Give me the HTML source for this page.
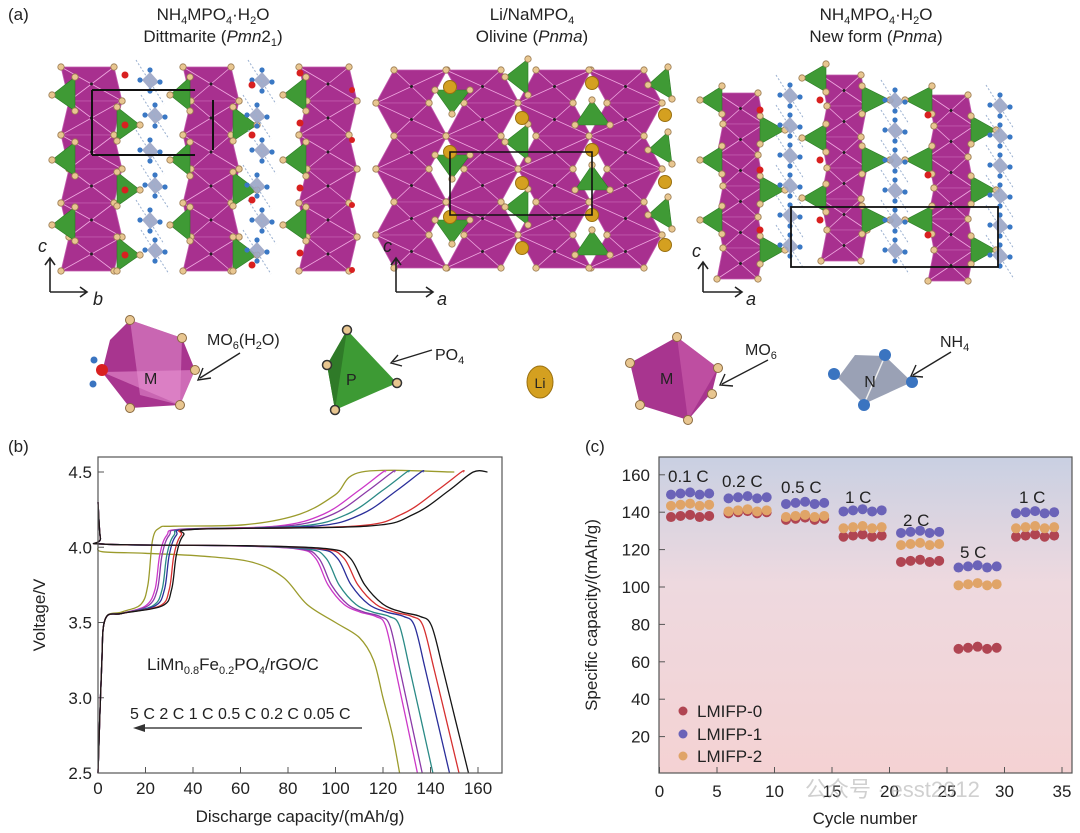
<!DOCTYPE html>
<html><head><meta charset="utf-8">
<style>
html,body{margin:0;padding:0;background:#fff;}
body{width:1080px;height:833px;overflow:hidden;position:relative;font-family:"Liberation Sans","Noto Sans CJK SC",sans-serif;}
svg{position:absolute;left:0;top:0;}
text{font-family:"Liberation Sans","Noto Sans CJK SC",sans-serif;fill:#222;}
</style></head><body>
<svg id="s" width="1080" height="833" viewBox="0 0 1080 833">
<defs>
<linearGradient id="bg" x1="0" y1="0" x2="0" y2="1">
<stop offset="0" stop-color="#c9d0e2"/><stop offset="0.4" stop-color="#eed9df"/><stop offset="1" stop-color="#f4d2d3"/>
</linearGradient>
<marker id="ah" markerWidth="10" markerHeight="8" refX="1" refY="4" orient="auto"><path d="M10,0 L0,4 L10,8 Z" fill="#333"/></marker>
</defs>
<g id="cry"></g>
<!-- panel a titles -->
<text x="8" y="20" font-size="17">(a)</text>
<text x="213" y="20" font-size="17" text-anchor="middle">NH<tspan font-size="11" dy="4">4</tspan><tspan dy="-4">MPO</tspan><tspan font-size="11" dy="4">4</tspan><tspan dy="-4">·H</tspan><tspan font-size="11" dy="4">2</tspan><tspan dy="-4">O</tspan></text>
<text x="213" y="42" font-size="17" text-anchor="middle">Dittmarite (<tspan font-style="italic">Pmn</tspan>2<tspan font-size="11" dy="4">1</tspan><tspan dy="-4">)</tspan></text>
<text x="532" y="20" font-size="17" text-anchor="middle">Li/NaMPO<tspan font-size="11" dy="4">4</tspan></text>
<text x="532" y="42" font-size="17" text-anchor="middle">Olivine (<tspan font-style="italic">Pnma</tspan>)</text>
<text x="876" y="20" font-size="17" text-anchor="middle">NH<tspan font-size="11" dy="4">4</tspan><tspan dy="-4">MPO</tspan><tspan font-size="11" dy="4">4</tspan><tspan dy="-4">·H</tspan><tspan font-size="11" dy="4">2</tspan><tspan dy="-4">O</tspan></text>
<text x="876" y="42" font-size="17" text-anchor="middle">New form (<tspan font-style="italic">Pnma</tspan>)</text>
<!-- axes arrows -->
<g stroke="#222" stroke-width="1.6" fill="none">
<path d="M50,292 V258 M45,265 L50,258 L55,265"/><path d="M50,292 H86 M80,287 L87,292 L80,297"/>
<path d="M396,292 V258 M391,265 L396,258 L401,265"/><path d="M396,292 H432 M426,287 L433,292 L426,297"/>
<path d="M703,292 V262 M698,269 L703,262 L708,269"/><path d="M703,292 H741 M735,287 L742,292 L735,297"/>
</g>
<text x="38" y="252" font-size="18" font-style="italic">c</text><text x="93" y="305" font-size="18" font-style="italic">b</text>
<text x="383" y="252" font-size="18" font-style="italic">c</text><text x="437" y="305" font-size="18" font-style="italic">a</text>
<text x="692" y="257" font-size="18" font-style="italic">c</text><text x="746" y="305" font-size="18" font-style="italic">a</text>
<!-- legend polyhedra -->
<g>
<polygon points="130,320 182,338 195,370 180,405 130,408 102,372 110,340" fill="#a8358f"/>
<polygon points="130,320 182,338 180,405 140,395" fill="#d77cc0" opacity="0.7"/>
<polygon points="102,372 180,405 195,370" fill="#e88fd0" opacity="0.6"/>
<circle cx="130" cy="320" r="4.5" fill="#e8c690" stroke="#8a6a40"/><circle cx="182" cy="338" r="4.5" fill="#e8c690" stroke="#8a6a40"/><circle cx="195" cy="370" r="4.5" fill="#e8c690" stroke="#8a6a40"/><circle cx="180" cy="405" r="4.5" fill="#e8c690" stroke="#8a6a40"/><circle cx="130" cy="408" r="4.5" fill="#e8c690" stroke="#8a6a40"/>
<circle cx="102" cy="370" r="6" fill="#d92020"/><circle cx="94" cy="360" r="3.5" fill="#3a74c0"/><circle cx="93" cy="384" r="3.5" fill="#3a74c0"/>
<text x="144" y="384" font-size="16">M</text>
<text x="207" y="345" font-size="16">MO<tspan font-size="11" dy="4">6</tspan><tspan dy="-4">(H</tspan><tspan font-size="11" dy="4">2</tspan><tspan dy="-4">O)</tspan></text>
<path d="M240,353 L200,378" stroke="#222" stroke-width="1.4"/><path d="M203,368 L198,380 L211,378" stroke="#222" stroke-width="1.4" fill="none"/>
<polygon points="347,330 397,383 335,410 327,365" fill="#3d9a34"/><polygon points="347,330 335,410 327,365" fill="#2f7a28"/>
<circle cx="347" cy="330" r="4.5" fill="#e8c690" stroke="#333" stroke-width="1.5"/><circle cx="327" cy="365" r="4.5" fill="#e8c690" stroke="#333" stroke-width="1.5"/><circle cx="397" cy="383" r="4.5" fill="#e8c690" stroke="#333" stroke-width="1.5"/><circle cx="335" cy="410" r="4.5" fill="#e8c690" stroke="#333" stroke-width="1.5"/>
<text x="346" y="385" font-size="16">P</text>
<text x="435" y="360" font-size="16">PO<tspan font-size="11" dy="4">4</tspan></text>
<path d="M432,350 L393,362" stroke="#222" stroke-width="1.4"/><path d="M398,355 L391,363 L402,366" stroke="#222" stroke-width="1.4" fill="none"/>
<ellipse cx="540" cy="382" rx="13" ry="16" fill="#d4a020" stroke="#9a7010"/>
<text x="540" y="388" font-size="14" text-anchor="middle">Li</text>
<polygon points="677,337 718,368 712,392 688,420 640,405 630,363" fill="#a8358f"/>
<polygon points="677,337 718,368 688,420" fill="#c85aa8" opacity="0.7"/>
<circle cx="677" cy="337" r="4.5" fill="#e8c690" stroke="#8a6a40"/><circle cx="718" cy="368" r="4.5" fill="#e8c690" stroke="#8a6a40"/><circle cx="712" cy="394" r="4.5" fill="#e8c690" stroke="#8a6a40"/><circle cx="688" cy="420" r="4.5" fill="#e8c690" stroke="#8a6a40"/><circle cx="640" cy="405" r="4.5" fill="#e8c690" stroke="#8a6a40"/><circle cx="630" cy="363" r="4.5" fill="#e8c690" stroke="#8a6a40"/>
<text x="660" y="384" font-size="16">M</text>
<text x="745" y="355" font-size="16">MO<tspan font-size="11" dy="4">6</tspan></text>
<path d="M768,360 L722,384" stroke="#222" stroke-width="1.4"/><path d="M725,374 L720,385 L733,386" stroke="#222" stroke-width="1.4" fill="none"/>
<polygon points="885,356 912,382 864,404 838,378 855,355" fill="#8890a8" opacity="0.85"/>
<line x1="885" y1="356" x2="864" y2="404" stroke="#eee" stroke-width="1.5"/>
<circle cx="885" cy="355" r="6" fill="#3a74c0"/><circle cx="912" cy="382" r="6" fill="#3a74c0"/><circle cx="864" cy="405" r="6" fill="#3a74c0"/><circle cx="834" cy="374" r="6" fill="#3a74c0"/>
<text x="870" y="387" font-size="16" text-anchor="middle">N</text>
<text x="940" y="347" font-size="16">NH<tspan font-size="11" dy="4">4</tspan></text>
<path d="M951,352 L913,375" stroke="#222" stroke-width="1.4"/><path d="M916,365 L911,376 L923,377" stroke="#222" stroke-width="1.4" fill="none"/>
</g>

<!-- panel b -->
<text x="8" y="452" font-size="17">(b)</text>
<g id="pb"></g>
<rect x="98" y="457" width="404" height="316" fill="none" stroke="#555" stroke-width="1.2"/>
<text x="147" y="670" font-size="17">LiMn<tspan font-size="11" dy="4">0.8</tspan><tspan dy="-4">Fe</tspan><tspan font-size="11" dy="4">0.2</tspan><tspan dy="-4">PO</tspan><tspan font-size="11" dy="4">4</tspan><tspan dy="-4">/rGO/C</tspan></text>
<text x="130" y="719" font-size="16">5 C 2 C 1 C 0.5 C 0.2 C 0.05 C</text>
<line x1="362" y1="728" x2="143" y2="728" stroke="#444" stroke-width="1.5"/>
<path d="M133,728 L145,724 L145,732 Z" fill="#333"/>
<text x="45" y="615" font-size="17" text-anchor="middle" transform="rotate(-90 45 615)">Voltage/V</text>
<text x="300" y="822" font-size="17" text-anchor="middle">Discharge capacity/(mAh/g)</text>
<!-- panel c -->
<text x="585" y="452" font-size="17">(c)</text>
<rect x="659" y="457" width="413" height="316" fill="url(#bg)" stroke="#555" stroke-width="1.2"/>
<g id="pc"></g>
<g font-size="17">
<text x="668" y="482">0.1 C</text><text x="722" y="487">0.2 C</text><text x="781" y="493">0.5 C</text>
<text x="845" y="503">1 C</text><text x="903" y="526">2 C</text><text x="960" y="558">5 C</text><text x="1019" y="503">1 C</text>
<text x="697" y="717">LMIFP-0</text><text x="697" y="740">LMIFP-1</text><text x="697" y="762">LMIFP-2</text>
</g>
<circle cx="683" cy="711" r="4.5" fill="#b04552"/><circle cx="683" cy="734" r="4.5" fill="#6b63b8"/><circle cx="683" cy="756" r="4.5" fill="#e0a468"/>
<text x="597" y="615" font-size="17" text-anchor="middle" transform="rotate(-90 597 615)">Specific capacity/(mAh/g)</text>
<text x="865" y="824" font-size="17" text-anchor="middle">Cycle number</text>
<text x="805" y="797" font-size="22" fill="#999" style="fill:#aaa" opacity="0.55">公众号 · esst2012</text>
</svg>
<script>
var NS="http://www.w3.org/2000/svg";
function el(p,t,a){var e=document.createElementNS(NS,t);for(var k in a)e.setAttribute(k,a[k]);p.appendChild(e);return e;}
function tx(p,x,y,s,a){var e=el(p,"text",{x:x,y:y,"font-size":17,"text-anchor":a||"end"});e.textContent=s;return e;}
// ---------- panel b ----------
var pb=document.getElementById("pb");
function X(q){return 98+q*(380/160);}function Y(v){return 773-(v-2.5)*150.5;}
// ticks
for(var i=0;i<=8;i++){var x=X(i*20);el(pb,"line",{x1:x,y1:773,x2:x,y2:767,stroke:"#555"});tx(pb,x,794,String(i*20),"middle");}
[2.5,3.0,3.5,4.0,4.5].forEach(function(v){el(pb,"line",{x1:98,y1:Y(v),x2:104,y2:Y(v),stroke:"#555"});tx(pb,92,Y(v)+6,v.toFixed(1));});
function path(pts){var d="";for(var i=0;i<pts.length;i++){var p0=pts[Math.max(i-1,0)],p1=pts[i],p2=pts[Math.min(i+1,pts.length-1)],pm=pts[Math.max(i-2,0)];
 if(i==0){d+="M"+X(p1[0]).toFixed(1)+","+Y(p1[1]).toFixed(1);continue;}
 var a=pts[i-1],b=p1,c=p2,z=pm;
 var c1x=X(a[0])+(X(b[0])-X(z[0]))/6,c1y=Y(a[1])+(Y(b[1])-Y(z[1]))/6,c2x=X(b[0])-(X(c[0])-X(a[0]))/6,c2y=Y(b[1])-(Y(c[1])-Y(a[1]))/6;
 d+="C"+c1x.toFixed(1)+","+c1y.toFixed(1)+" "+c2x.toFixed(1)+","+c2y.toFixed(1)+" "+X(b[0]).toFixed(1)+","+Y(b[1]).toFixed(1);}return d;}
var curves=[
 {c:"#9b9b2c",Q:127,s:22,E:111,olive:1},
 {c:"#cc38c8",Q:134.5,s:26,E:120},
 {c:"#8b3aa8",Q:136.5,s:27,E:124},
 {c:"#2a8a86",Q:141,s:29,E:130},
 {c:"#2a2e9a",Q:148,s:30,E:136},
 {c:"#d63030",Q:152,s:32,E:153},
 {c:"#151515",Q:156,s:33,E:158,end:164}];
curves.forEach(function(k){
 var Q=k.Q,d;
 if(k.olive){d=[[0,4.0],[2,3.97],[20,3.96],[45,3.94],[65,3.9],[78,3.8],[88,3.62],[100,3.5],[110,3.4],[116,3.25],[120,3.0],[124,2.75],[127,2.5]];}
 else d=[[0,4.3],[1,4.06],[3,4.02],[0.4*Q,4.01],[0.62*Q,3.99],[0.68*Q,3.93],[0.72*Q,3.75],[0.77*Q,3.62],[0.82*Q,3.57],[0.87*Q,3.54],[0.9*Q,3.48],[0.93*Q,3.2],[0.965*Q,2.85],[Q,2.5]];
 el(pb,"path",{d:path(d),fill:"none",stroke:k.c,"stroke-width":1.3});
 var s=k.s,E=k.E;
 var c=[[0,2.5],[1.5,3.2],[3,3.52],[10,3.56],[s-6,3.61],[s-2,3.72],[s,3.95],[s+3,4.08],[s+9,4.12],[E-45,4.14],[E-25,4.22],[E-10,4.38],[E,4.5],[k.end||E+1,4.5]];
 if(k.olive)c=[[0,2.5],[1.5,3.2],[3,3.52],[10,3.57],[18,3.62],[21,3.75],[23,4.05],[26,4.13],[32,4.14],[62,4.15],[85,4.22],[100,4.35],[111,4.5],[150,4.5]];
 el(pb,"path",{d:path(c),fill:"none",stroke:k.c,"stroke-width":1.3});
});
// ---------- panel c ----------
var pc=document.getElementById("pc");
function CX(c){return 659.5+c*11.5;}function CY(v){return 774-v*1.87;}
for(var i=0;i<=7;i++){var x=CX(i*5);el(pc,"line",{x1:x,y1:773,x2:x,y2:767,stroke:"#555"});tx(pc,x,797,String(i*5),"middle");}
for(var v=20;v<=160;v+=20){el(pc,"line",{x1:659,y1:CY(v),x2:665,y2:CY(v),stroke:"#555"});tx(pc,650,CY(v)+6,String(v));}
var G=[[150,144,138],[148,141,140],[145,138,136.5],[141,132,127.5],[129.5,123,114],[111,101.5,67.5],[140,132,127.5]];
var cols=["#6b63b8","#e0a468","#b04552"];
G.forEach(function(g,gi){for(var j=0;j<5;j++){var c=1+gi*5+j*0.83;for(var m=2;m>=0;m--){var jit=((j*7+m*3)%3-1)*0.6;el(pc,"circle",{cx:CX(c),cy:CY(g[m]+jit),r:5,fill:cols[m]});}}});
// ---------- crystals ----------
var cr=document.getElementById("cry");
var MG="#a8308f",GR="#3f9a35",OX="#e8c690";
function dot(x,y,col,r){el(cr,"circle",{cx:x,cy:y,r:r||3.2,fill:col||OX,stroke:col?"none":"#9a7a50","stroke-width":0.8});}
function column(x,w,y0,y1,h,sk){var n=Math.round((y1-y0)/h);for(var i=0;i<n;i++){var t=y0+i*h,b=t+h,o=(i%2?sk:-sk);
 var pts=[[x+o,t],[x+w+o,t],[x+w-o,b],[x-o,b]];
 el(cr,"polygon",{points:pts.map(function(p){return p.join(",")}).join(" "),fill:MG,stroke:"#c25cae","stroke-width":0.8});
 el(cr,"line",{x1:pts[0][0],y1:t,x2:pts[2][0],y2:b,stroke:"#f0a8e0","stroke-width":0.8});
 el(cr,"line",{x1:pts[1][0],y1:t,x2:pts[3][0],y2:b,stroke:"#f0a8e0","stroke-width":0.8});
 el(cr,"circle",{cx:x+w/2,cy:(t+b)/2,r:1.5,fill:"#222"});
 pts.forEach(function(p){dot(p[0],p[1]);});}}
function tri(x1,y1,x2,y2,x3,y3){el(cr,"polygon",{points:[x1,y1,x2,y2,x3,y3].join(","),fill:GR,stroke:"#2c7a24","stroke-width":0.6});dot(x1,y1);dot(x2,y2);dot(x3,y3);}
function nh4(x,y){el(cr,"polygon",{points:[x,y-8,x+9,y+2,x,y+9,x-8,y].join(","),fill:"#9aa4c4",opacity:0.9});[[x,y-10],[x+10,y+2],[x,y+11],[x-10,y]].forEach(function(p){dot(p[0],p[1],"#3a78c4",2.6);});
 el(cr,"line",{x1:x-14,y1:y-20,x2:x+14,y2:y+24,stroke:"#9ab0d0","stroke-width":1,"stroke-dasharray":"2,2"});}
// panel 1
[[65,53],[187,48],[303,50]].forEach(function(c){column(c[0],c[1],67,271,34,4);});
[95,160,225].forEach(function(y){tri(52,y,75,y-18,75,y+16);tri(170,y,190,y-18,190,y+16);tri(283,y,306,y-18,306,y+16);});
[125,190,255].forEach(function(y){tri(140,y,117,y-18,117,y+16);tri(257,y,233,y-18,233,y+16);});
[80,115,150,185,220,250].forEach(function(y,i){nh4(150+(i%2)*5,y);nh4(262-(i%2)*5,y);});
[85,135,200,265].forEach(function(y){dot(125,y-10,"#d82020",3.5);dot(252,y,"#d82020",3.5);dot(300,y-12,"#d82020",3.5);dot(352,y+5,"#d82020",3);});
el(cr,"path",{d:"M92,90 H195 M92,155 H195 M92,90 V155 M213,100 V150",stroke:"#111","stroke-width":2,fill:"none"});
// panel 2
[[385,53],[455,55],[527,55],[598,55]].forEach(function(c,i){column(c[0],c[1],70,270,33,9*(i%2?1:-1));});
[100,165,230].forEach(function(y){tri(435,y-10,470,y-10,452,y+14);tri(575,y+25,610,y+25,592,y);});
[85,150,215].forEach(function(y){tri(505,y-8,528,y-26,528,y+10);tri(648,y,668,y-18,672,y+14);});
[[450,87],[522,118],[450,152],[522,183],[450,217],[522,248],[592,83],[665,115],[592,150],[665,182],[592,215],[665,245]].forEach(function(p){el(cr,"circle",{cx:p[0],cy:p[1],r:6.5,fill:"#d4a020",stroke:"#9a7010"});});
el(cr,"path",{d:"M450,152 H592 V215 H450 Z",stroke:"#111","stroke-width":1.6,fill:"none"});
// panel 3
[[720,41,93,277],[824,40,75,260],[931,40,95,277]].forEach(function(c){column(c[0],c[1],c[2],c[3],31,3);});
[100,160,220].forEach(function(y){tri(700,y,722,y-14,722,y+14);tri(802,y-22,826,y-36,826,y-8);tri(905,y,932,y-14,932,y+14);});
[130,190,250].forEach(function(y){tri(785,y,760,y-14,760,y+14);tri(890,y-30,862,y-44,862,y-16);tri(996,y,971,y-14,971,y+14);});
[100,130,160,190,220,250].forEach(function(y,i){nh4(790,y-5);nh4(895,y);nh4(1000,y+5);});
[110,170,230].forEach(function(y){dot(760,y,"#d82020",3.5);dot(820,y-10,"#d82020",3.5);dot(928,y+5,"#d82020",3.5);});
el(cr,"rect",{x:791,y:207,width:207,height:60,fill:"none",stroke:"#111","stroke-width":1.8});
</script>
</body></html>
